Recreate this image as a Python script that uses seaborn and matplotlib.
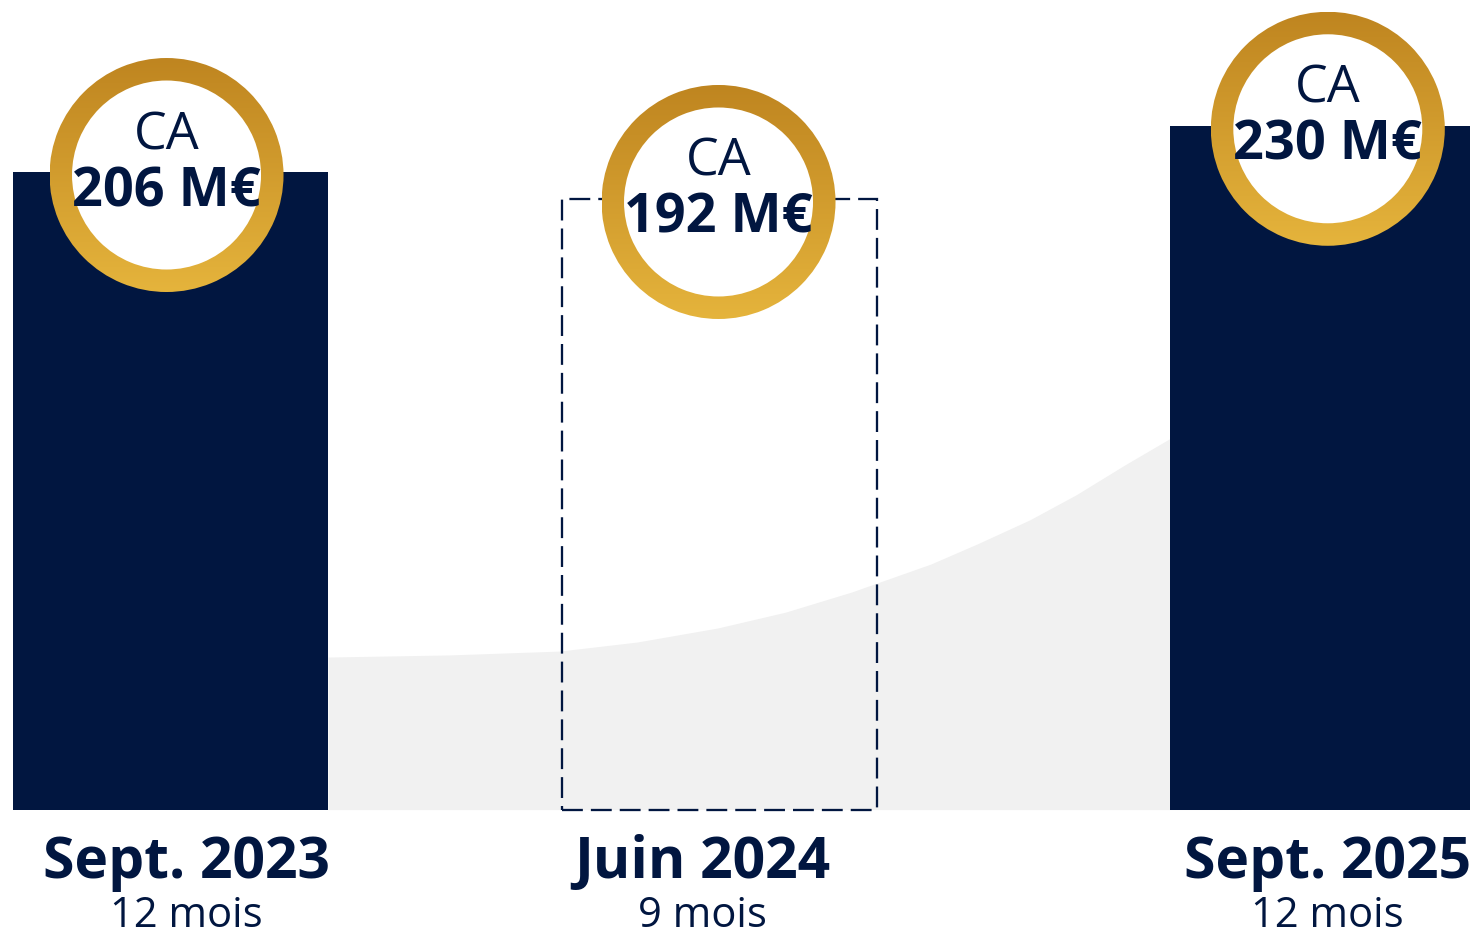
import numpy as np
import pandas as pd
import matplotlib
matplotlib.use("Agg")
import matplotlib.pyplot as plt
import seaborn as sns
from matplotlib.patches import Annulus, Circle
from matplotlib.colors import LinearSegmentedColormap

# ---------------- data ----------------
periods = ["Sept. 2023", "Juin 2024", "Sept. 2025"]
durations = ["12 mois", "9 mois", "12 mois"]
revenue = [206, 192, 230]            # CA in M€
value_labels = ["206 M€", "192 M€", "230 M€"]
header = "CA"

# decorative background trend (x in bar-position units, y in chart units)
trend_x = [0.287, 0.509, 0.709, 0.85, 0.997, 1.12, 1.241, 1.385, 1.47, 1.565, 1.65, 1.738, 1.822, 1.95]
trend_y = [-45.8, -44.7, -42.7, -38.0, -30.7, -22.5, -12.0, 2.5, 13.0, 25.4, 38.5, 53.9, 67.9, 80.0]

# ---------------- style / layout ----------------
NAVY = "#011640"
GRAY = "#f1f1f1"
GOLD_TOP = "#bf8520"
GOLD_BOT = "#e5b43c"

W, H, DPI = 1470, 935, 100
POS = [0.0, 1.0, 2.108]          # horizontal placement of the three columns
BAR_WIDTH = 0.574
BASE = -125                      # visual baseline of the columns
XLIM = (-0.3106, 2.367)
YLIM = (-190.1, 295.3)
LABEL_SHIFT = [16, -17, 0]       # px shift of bottom labels
BADGE_SHIFT = [-4, -1, 0]        # px shift of badges

sns.set_theme(style="white")
plt.rcParams["font.family"] = ["Open Sans", "DejaVu Sans"]

fig = plt.figure(figsize=(W / DPI, H / DPI), dpi=DPI, facecolor="white")
ax = fig.add_axes([0, 0, 1, 1])

df = pd.DataFrame({"pos": POS, "period": periods, "ca": revenue})
df["height"] = df["ca"] - BASE

ax.fill_between(trend_x, trend_y, BASE, color=GRAY, lw=0, zorder=0)

sns.barplot(data=df, x="pos", y="height", native_scale=True, width=BAR_WIDTH,
            color=NAVY, saturation=1, bottom=BASE, errorbar=None, ax=ax,
            zorder=2, linewidth=0)

ax.set_xlim(*XLIM)
ax.set_ylim(*YLIM)
ax.axis("off")

# middle column: dashed outline only
bars = sorted(ax.patches, key=lambda p: p.get_x())
mid = bars[1]
lw_pt = 1.65
mid.set_facecolor("none")
mid.set_edgecolor(NAVY)
mid.set_linewidth(lw_pt)
mid.set_linestyle((0, (9.1, 3.5)))
mid.set_zorder(3)

# overlay axes in pixel coordinates for the badges and labels
ax2 = fig.add_axes([0, 0, 1, 1], zorder=5)
ax2.set_autoscale_on(False)
ax2.set_xlim(0, W)
ax2.set_ylim(H, 0)
ax2.axis("off")

cmap = LinearSegmentedColormap.from_list("gold", [GOLD_TOP, GOLD_BOT])
grad = np.linspace(0, 1, 256).reshape(-1, 1)
R, RING = 117, 22.5

fig.canvas.draw()
for i, (p, v) in enumerate(zip(POS, revenue)):
    xd, yd = ax.transData.transform((p, v))
    cx, cy = xd + BADGE_SHIFT[i], H - yd + 3
    ax2.add_patch(Circle((cx, cy), R - RING + 1, fc="white", ec="none", zorder=3))
    ann = Annulus((cx, cy), R, RING, fc="none", ec="none", transform=ax2.transData)
    ax2.add_patch(ann)
    im = ax2.imshow(grad, cmap=cmap, extent=(cx - R, cx + R, cy + R, cy - R),
                    aspect="auto", zorder=4, interpolation="bilinear")
    im.set_clip_path(ann)
    ax2.text(cx, cy - 26, header, ha="center", va="baseline", fontsize=37.5,
             color=NAVY, zorder=6)
    ax2.text(cx, cy + 31, value_labels[i], ha="center", va="baseline",
             fontsize=39, fontweight="bold", color=NAVY, zorder=6)

    bx, _ = ax.transData.transform((p, BASE))
    ax2.text(bx + LABEL_SHIFT[i], 878, periods[i], ha="center", va="baseline",
             fontsize=41, fontweight="bold", color=NAVY)
    ax2.text(bx + LABEL_SHIFT[i], 927, durations[i], ha="center", va="baseline",
             fontsize=30, color=NAVY)

ax2.set_xlim(0, W)
ax2.set_ylim(H, 0)

fig.savefig("out.png", dpi=DPI, facecolor="white")
